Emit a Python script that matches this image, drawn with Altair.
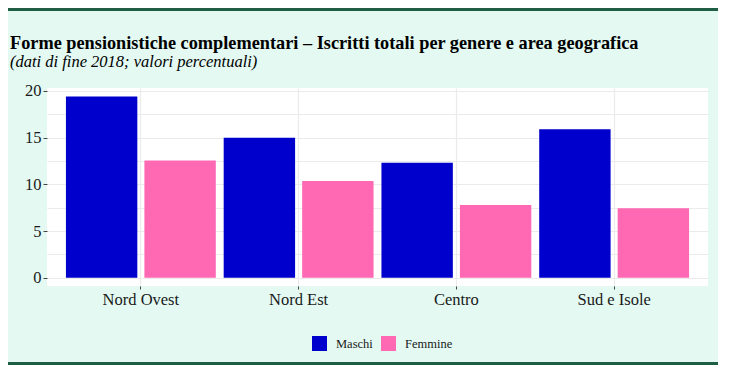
import altair as alt
import pandas as pd

regions = ["Nord Ovest", "Nord Est", "Centro", "Sud e Isole"]
genders = ["Maschi", "Femmine"]
maschi = [19.4, 15.0, 12.3, 15.9]
femmine = [12.55, 10.35, 7.8, 7.45]
y_ticks = [0, 2.5, 5, 7.5, 10, 12.5, 15, 17.5, 20]
title_text = "Forme pensionistiche complementari – Iscritti totali per genere e area geografica"
subtitle_text = "(dati di fine 2018; valori percentuali)"

rows = []
for r, m, f in zip(regions, maschi, femmine):
    rows.append({"area": r, "genere": "Maschi", "valore": m})
    rows.append({"area": r, "genere": "Femmine", "valore": f})
df = pd.DataFrame(rows)
tdf = pd.DataFrame({"t": [title_text], "s": [subtitle_text]})

W, H = 661, 198
PL, PT, PR, PB = 39, 80, 10, 79
SERIF = "Liberation Serif"
MINT = "#E3F9F2"
GREEN = "#1E5E45"

bars = alt.Chart(df).mark_bar(stroke=None).encode(
    x=alt.X("area:N", sort=regions, title=None,
            scale=alt.Scale(paddingInner=0.05, paddingOuter=0.12),
            axis=alt.Axis(labelAngle=0, grid=True, bandPosition=0.5,
                          gridColor="#EBEBEB", gridWidth=1.2,
                          domain=False, tickSize=3, tickColor="#444",
                          labelPadding=2, labelFont=SERIF, labelFontSize=16.5,
                          labelColor="#1a1a1a")),
    xOffset=alt.XOffset("genere:N", sort=genders,
                        scale=alt.Scale(paddingInner=0.09, paddingOuter=0)),
    y=alt.Y("valore:Q", title=None,
            scale=alt.Scale(domain=[-0.89, 20.32], nice=False, zero=False),
            axis=alt.Axis(values=y_ticks, grid=True, gridColor="#EBEBEB",
                          gridWidth=1.2, domain=False, tickSize=4,
                          tickColor="#444",
                          tickOpacity={"condition": {"test": "datum.value % 5 == 0", "value": 1}, "value": 0},
                          labelExpr="datum.value % 5 == 0 ? datum.label : ''",
                          labelPadding=2, labelFont=SERIF, labelFontSize=16.5,
                          labelColor="#1a1a1a")),
    color=alt.Color("genere:N", sort=genders, title=None,
                    scale=alt.Scale(domain=genders, range=["#0000CD", "#FF69B4"]),
                    legend=alt.Legend(orient="none", legendX=265, legendY=248,
                                      direction="horizontal", symbolType="square",
                                      symbolSize=225, symbolStrokeWidth=0,
                                      labelFont=SERIF, labelFontSize=12.5,
                                      labelColor="#1a1a1a", labelOffset=9,
                                      columnPadding=8, padding=0)),
)

title = alt.Chart(tdf).mark_text(
    align="left", baseline="alphabetic", font=SERIF, fontSize=18.3,
    fontWeight="bold", color="#000000").encode(
    text="t:N", x=alt.value(-37), y=alt.value(-39))
subtitle = alt.Chart(tdf).mark_text(
    align="left", baseline="alphabetic", font=SERIF, fontSize=16.5,
    fontStyle="italic", color="#000000").encode(
    text="s:N", x=alt.value(-37), y=alt.value(-21))

top_line = alt.Chart(tdf).mark_rule(color=GREEN, strokeWidth=3).encode(
    x=alt.value(-PL), x2=alt.value(W + PR), y=alt.value(-PT + 1.5))
bottom_line = alt.Chart(tdf).mark_rule(color=GREEN, strokeWidth=3).encode(
    x=alt.value(-PL), x2=alt.value(W + PR), y=alt.value(H + PB - 1.5))

chart = alt.layer(bars, title, subtitle, top_line, bottom_line).properties(
    width=W, height=H,
    autosize=alt.AutoSizeParams(type="none"),
    padding={"left": PL, "top": PT, "right": PR, "bottom": PB},
    background=MINT,
).configure_view(fill="white", stroke=None)

chart.save("out.html", embed_options={"renderer": "svg", "actions": False})
